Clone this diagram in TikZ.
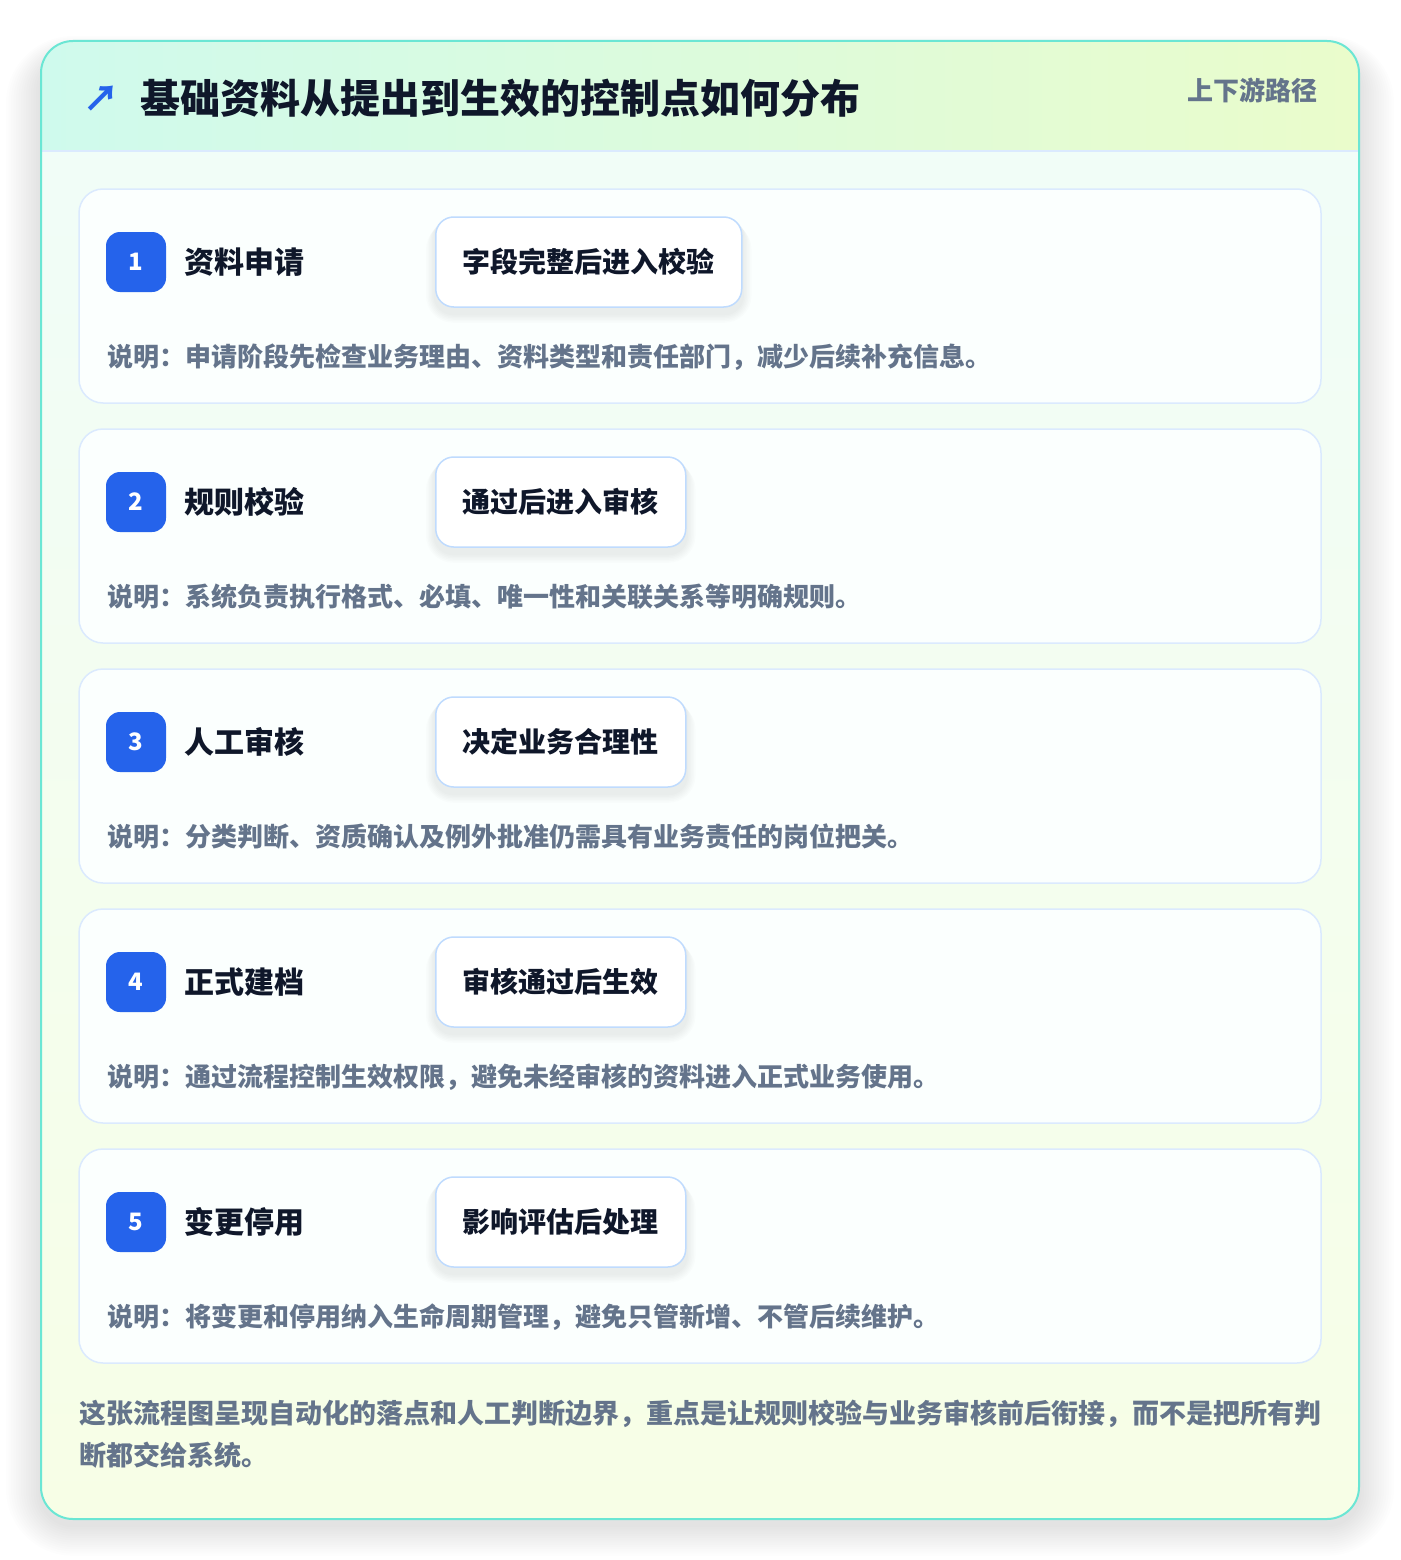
\documentclass[tikz,border=0pt]{standalone}
\usepackage{fontspec}
\setmainfont{Noto Sans CJK SC}
\usepackage{xcolor}
\usetikzlibrary{positioning}

\definecolor{mainline}{HTML}{6BE6D4}
\definecolor{headleft}{HTML}{CFFAED}
\definecolor{headright}{HTML}{EAFCCB}
\definecolor{bodytop}{HTML}{F0FDF9}
\definecolor{bodybottom}{HTML}{F7FEE6}
\definecolor{cardline}{HTML}{DBEAFE}
\definecolor{pillline}{HTML}{BFDBFE}
\definecolor{badgeblue}{HTML}{2563EB}
\definecolor{inkdark}{HTML}{0F172A}
\definecolor{inkgray}{HTML}{64748B}
\definecolor{shadowink}{HTML}{1E293B}

\pgfdeclarelayer{cardlayer}
\pgfdeclarelayer{shadowlayer}
\pgfsetlayers{cardlayer,shadowlayer,main}

\tikzset{
  stagecard/.style={draw=cardline, line width=1.5pt, fill=white!75!bodytop, rounded corners=24pt},
  badge/.style={fill=badgeblue, text=white, rounded corners=14pt, minimum size=60pt, inner sep=0pt,
    font=\fontsize{24}{26}\selectfont\bfseries},
  stagename/.style={text=inkdark, inner sep=0pt, font=\fontsize{30}{34}\selectfont\bfseries},
  pill/.style={draw=pillline, line width=1.5pt, fill=white, rounded corners=18pt, minimum height=90pt,
    inner xsep=27pt, text=inkdark, font=\fontsize{28}{32}\selectfont\bfseries},
  note/.style={text=inkgray, inner sep=0pt, font=\fontsize{26}{30}\selectfont\bfseries}
}

\begin{document}
\begin{tikzpicture}[x=1pt, y=-1pt]
\useasboundingbox (0,0) rectangle (1400,1560);

\begin{pgfonlayer}{cardlayer}
\fill[white] (0,0) rectangle (1400,1560);

% Main card shadow
\foreach \k in {1,...,14}
  \fill[shadowink, opacity=0.009, rounded corners=32pt+\k*2.5pt]
    (41-\k*2.5,41+16-\k*1.5) rectangle (1359+\k*2.5,1519+6+\k*2.2);

% Main card
\shade[top color=bodytop, bottom color=bodybottom, rounded corners=32pt] (41,41) rectangle (1359,1519);

% Header band
\begin{scope}
  \clip[rounded corners=32pt] (41,41) rectangle (1359,1519);
  \shade[left color=headleft, right color=headright] (41,41) rectangle (1359,151);
  \draw[cardline, line width=1.5pt] (41,151) -- (1359,151);
\end{scope}
\draw[mainline, line width=2pt, rounded corners=32pt] (41,41) rectangle (1359,1519);
\end{pgfonlayer}

\node[text=badgeblue, inner sep=0pt, font=\fontsize{36}{38}\selectfont\bfseries] (icon) at (101,99) {↗};
\node[anchor=west, text=inkdark, inner sep=0pt, font=\fontsize{40}{44}\selectfont\bfseries] (title)
  at (140,98) {基础资料从提出到生效的控制点如何分布};
\node[anchor=east, text=inkgray, inner sep=0pt, font=\fontsize{26}{30}\selectfont\bfseries] (route)
  at (1318,90) {上下游路径};

% Stages
\foreach \i/\name/\check/\desc in {
  1/资料申请/字段完整后进入校验/说明：申请阶段先检查业务理由、资料类型和责任部门，减少后续补充信息。,
  2/规则校验/通过后进入审核/说明：系统负责执行格式、必填、唯一性和关联关系等明确规则。,
  3/人工审核/决定业务合理性/说明：分类判断、资质确认及例外批准仍需具有业务责任的岗位把关。,
  4/正式建档/审核通过后生效/说明：通过流程控制生效权限，避免未经审核的资料进入正式业务使用。,
  5/变更停用/影响评估后处理/说明：将变更和停用纳入生命周期管理，避免只管新增、不管后续维护。}{
  \pgfmathsetmacro{\top}{189+(\i-1)*240}
  \begin{pgfonlayer}{cardlayer}
    \path[stagecard] (79,\top) rectangle (1321,\top+214);
  \end{pgfonlayer}
  \node[badge] (badge\i) at (136,\top+73) {\i};
  \node[stagename, right=18pt of badge\i] (name\i) {\name};
  \node[pill, anchor=west] (check\i) at (435,\top+73) {\check};
  \node[note, anchor=west] (note\i) at (107,\top+168) {\desc};
  % soft shadow under the pill
  \begin{pgfonlayer}{shadowlayer}
  \foreach \k in {1,...,6}
    \fill[shadowink, opacity=0.012, rounded corners=18pt+\k*1.5pt]
      ([xshift=-\k*1.5pt, yshift=-\k*1pt]check\i.north west) rectangle ([xshift=\k*1.5pt, yshift=-6pt-\k*1.5pt]check\i.south east);
  \end{pgfonlayer}
}

% Footer remark
\node[anchor=north west, align=left, text=inkgray, inner sep=0pt,
  font=\fontsize{27}{42}\selectfont\bfseries] (remark) at (79,1400)
  {这张流程图呈现自动化的落点和人工判断边界，重点是让规则校验与业务审核前后衔接，而不是把所有判\\断都交给系统。};
\end{tikzpicture}
\end{document}
